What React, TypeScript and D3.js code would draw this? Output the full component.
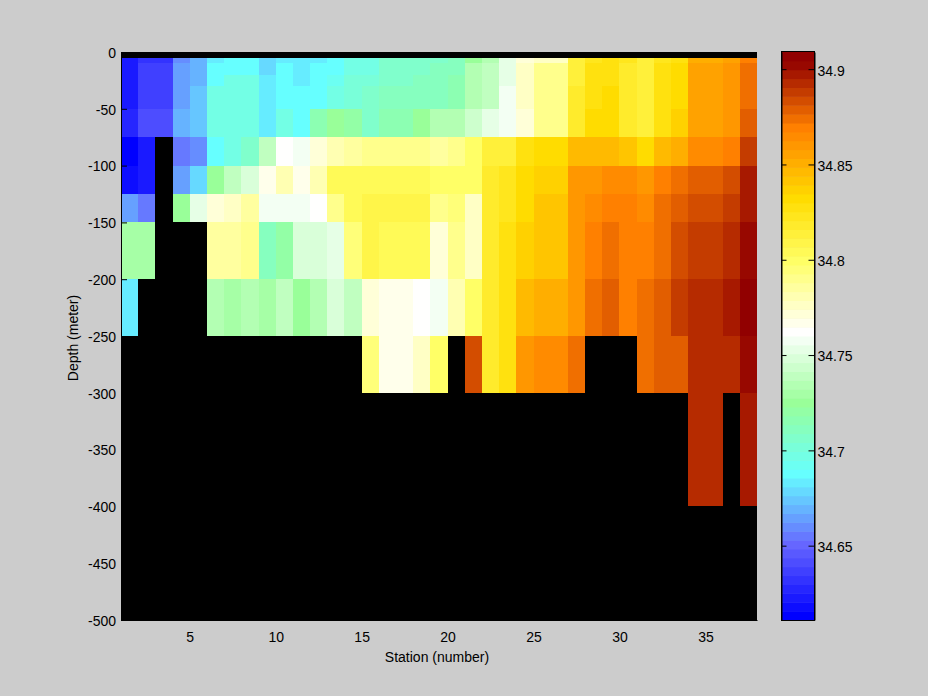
import React, { useEffect, useRef } from 'react';
import * as d3 from 'd3';

const _ = null;

// salinity per station cell, one list per depth layer (null = no data)
const layer5to10 = [34.62, 34.63, 34.63, 34.658, 34.667, 34.681, 34.686, 34.686, 34.677, 34.681, 34.681, 34.681, 34.686, 34.694, 34.695, 34.703, 34.703, 34.703, 34.706, 34.707, 34.725, 34.734, 34.751, 34.769, 34.776, 34.776, 34.811, 34.819, 34.826, 34.819, 34.811, 34.821, 34.827, 34.847, 34.847, 34.855, 34.866];
const layer10to20 = [34.62, 34.634, 34.634, 34.662, 34.667, 34.686, 34.686, 34.686, 34.677, 34.686, 34.681, 34.686, 34.686, 34.695, 34.695, 34.703, 34.703, 34.703, 34.707, 34.711, 34.731, 34.737, 34.751, 34.775, 34.788, 34.788, 34.809, 34.823, 34.826, 34.817, 34.812, 34.826, 34.831, 34.852, 34.852, 34.858, 34.871];
const layer20to30 = [34.62, 34.634, 34.634, 34.662, 34.667, 34.686, 34.693, 34.693, 34.681, 34.686, 34.681, 34.686, 34.69, 34.698, 34.7, 34.704, 34.704, 34.707, 34.709, 34.714, 34.731, 34.737, 34.751, 34.775, 34.788, 34.788, 34.809, 34.823, 34.826, 34.817, 34.812, 34.826, 34.831, 34.852, 34.852, 34.858, 34.871];
const layer30to50 = [34.62, 34.634, 34.634, 34.662, 34.672, 34.693, 34.694, 34.694, 34.681, 34.686, 34.686, 34.686, 34.693, 34.699, 34.703, 34.711, 34.711, 34.709, 34.711, 34.715, 34.731, 34.737, 34.756, 34.775, 34.788, 34.788, 34.815, 34.823, 34.83, 34.817, 34.812, 34.826, 34.831, 34.852, 34.852, 34.858, 34.871];
const layer50to75 = [34.625, 34.639, 34.639, 34.667, 34.672, 34.694, 34.694, 34.694, 34.681, 34.695, 34.686, 34.712, 34.722, 34.718, 34.704, 34.712, 34.712, 34.725, 34.731, 34.733, 34.74, 34.751, 34.756, 34.771, 34.79, 34.79, 34.815, 34.828, 34.83, 34.816, 34.812, 34.827, 34.836, 34.852, 34.852, 34.858, 34.876];
const layer75to100 = [34.613, 34.62, _, 34.653, 34.658, 34.686, 34.694, 34.703, 34.735, 34.758, 34.755, 34.768, 34.778, 34.782, 34.788, 34.788, 34.788, 34.788, 34.785, 34.788, 34.796, 34.809, 34.811, 34.826, 34.83, 34.83, 34.844, 34.844, 34.844, 34.84, 34.83, 34.842, 34.85, 34.862, 34.862, 34.868, 34.886];
const layer100to125 = [34.616, 34.62, _, 34.662, 34.677, 34.724, 34.735, 34.744, 34.764, 34.778, 34.766, 34.78, 34.802, 34.803, 34.803, 34.803, 34.803, 34.803, 34.799, 34.799, 34.799, 34.816, 34.819, 34.831, 34.836, 34.836, 34.856, 34.86, 34.864, 34.864, 34.858, 34.868, 34.871, 34.877, 34.877, 34.882, 34.896];
const layer125to150 = [34.662, 34.653, _, 34.724, 34.751, 34.769, 34.774, 34.782, 34.755, 34.755, 34.755, 34.759, 34.79, 34.802, 34.807, 34.807, 34.807, 34.807, 34.788, 34.792, 34.774, 34.816, 34.822, 34.831, 34.84, 34.84, 34.858, 34.864, 34.868, 34.868, 34.861, 34.872, 34.877, 34.882, 34.882, 34.886, 34.897];
const layer150to200 = [34.726, 34.726, _, _, _, 34.782, 34.785, 34.79, 34.711, 34.718, 34.744, 34.744, 34.749, 34.794, 34.807, 34.802, 34.802, 34.8, 34.77, 34.787, 34.772, 34.817, 34.825, 34.834, 34.838, 34.838, 34.858, 34.866, 34.871, 34.866, 34.866, 34.871, 34.881, 34.885, 34.885, 34.89, 34.9];
const layer200to250 = [34.681, _, _, _, _, 34.731, 34.727, 34.731, 34.727, 34.736, 34.724, 34.733, 34.744, 34.737, 34.77, 34.766, 34.766, 34.759, 34.754, 34.778, 34.798, 34.817, 34.827, 34.844, 34.85, 34.85, 34.86, 34.871, 34.876, 34.866, 34.871, 34.875, 34.885, 34.89, 34.89, 34.897, 34.905];
const layer250to300 = [_, _, _, _, _, _, _, _, _, _, _, _, _, _, 34.792, 34.766, 34.766, 34.773, 34.797, _, 34.881, 34.816, 34.827, 34.858, 34.862, 34.862, 34.871, _, _, _, 34.871, 34.876, 34.876, 34.89, 34.89, 34.89, 34.9];
const layer300to400 = [_, _, _, _, _, _, _, _, _, _, _, _, _, _, _, _, _, _, _, _, _, _, _, _, _, _, _, _, _, _, _, _, _, 34.89, 34.89, _, 34.897];

const layers = [layer5to10, layer10to20, layer20to30, layer30to50, layer50to75, layer75to100, layer100to125, layer125to150, layer150to200, layer200to250, layer250to300, layer300to400];
const depthEdges = [-5, -10, -20, -30, -50, -75, -100, -125, -150, -200, -250, -300, -400];

const stationTicks = [5, 10, 15, 20, 25, 30, 35];
const depthTicks = [0, -50, -100, -150, -200, -250, -300, -350, -400, -450, -500];
const salinityTicks = [34.65, 34.7, 34.75, 34.8, 34.85, 34.9];
const salinityRange = [34.611, 34.909];

// colormap stops
const stopValues = [34.6133, 34.6505, 34.6878, 34.725, 34.762, 34.7996, 34.8322, 34.8694, 34.9043];
const stopColors = ['#0000ff', '#6666ff', '#66ffff', '#99ff99', '#ffffff', '#ffff66', '#ffdc00', '#ff8000', '#910000'];
const nColors = 64;

const App = () => {
  const svgRef = useRef<SVGSVGElement>(null);

  useEffect(() => {
    const svg = d3.select(svgRef.current);
    svg.selectAll('*').remove();
    const font = '"Liberation Sans", Arial, sans-serif';
    const fontSize = 14;

    const x = d3.scaleLinear().domain([1, 38]).range([121, 757]);
    const y = d3.scaleLinear().domain([-500, 0]).range([620, 52]);
    const cbarY = d3.scaleLinear().domain(salinityRange).range([620, 52]);

    const ramp = d3.scaleLinear<string>().domain(stopValues).range(stopColors).interpolate(d3.interpolateRgb).clamp(true);
    const binSize = (salinityRange[1] - salinityRange[0]) / nColors;
    const palette = d3.range(nColors).map(i => ramp(salinityRange[0] + (i + 0.5) * binSize));
    // cell values were read against the bin they fall nearest to
    const color = d3.scaleQuantize<string>()
      .domain([salinityRange[0] - binSize / 2, salinityRange[1] - binSize / 2])
      .range(palette);

    // black axes background shows through the missing cells
    svg.append('rect')
      .attr('x', x(1)).attr('y', y(0))
      .attr('width', x(38) - x(1)).attr('height', y(-500) - y(0))
      .attr('fill', '#000');

    // pcolor cells
    layers.forEach((row, j) => {
      row.forEach((v, i) => {
        if (v === null) return;
        svg.append('rect')
          .attr('x', Math.round(x(i + 1)))
          .attr('y', Math.round(y(depthEdges[j])))
          .attr('width', Math.round(x(i + 2)) - Math.round(x(i + 1)))
          .attr('height', Math.round(y(depthEdges[j + 1])) - Math.round(y(depthEdges[j])))
          .attr('fill', color(v));
      });
    });

    const styleAxis = (g: any) => {
      g.selectAll('path').attr('stroke', '#000');
      g.selectAll('line').attr('stroke', '#000');
      g.selectAll('text').attr('fill', '#000').attr('font-family', font).attr('font-size', fontSize);
    };

    svg.append('g')
      .attr('transform', 'translate(0,620)')
      .call(d3.axisBottom(x).tickValues(stationTicks).tickFormat(d3.format('d')).tickSizeInner(-6).tickSizeOuter(0).tickPadding(12))
      .call(styleAxis);

    svg.append('g')
      .attr('transform', 'translate(121,0)')
      .call(d3.axisLeft(y).tickValues(depthTicks).tickFormat((d: any) => String(d)).tickSizeInner(-6).tickSizeOuter(0).tickPadding(5))
      .call(styleAxis)
      .selectAll('text').attr('dy', '0.38em');

    svg.append('text')
      .attr('x', 437).attr('y', 662)
      .attr('text-anchor', 'middle')
      .attr('font-family', font).attr('font-size', fontSize)
      .text('Station (number)');

    svg.append('text')
      .attr('transform', 'translate(78,338) rotate(-90)')
      .attr('text-anchor', 'middle')
      .attr('font-family', font).attr('font-size', fontSize)
      .text('Depth (meter)');

    // colorbar
    svg.append('g')
      .selectAll('rect')
      .data(palette)
      .enter()
      .append('rect')
      .attr('x', 782)
      .attr('width', 32)
      .attr('y', (_d, i) => cbarY(salinityRange[0] + (i + 1) * binSize))
      .attr('height', cbarY(salinityRange[0]) - cbarY(salinityRange[0] + binSize) + 0.5)
      .attr('fill', d => d);

    svg.append('rect')
      .attr('x', 781.5).attr('y', 51.5)
      .attr('width', 33).attr('height', 569)
      .attr('fill', 'none').attr('stroke', '#000');

    svg.append('g')
      .attr('transform', 'translate(814.5,0)')
      .call(d3.axisRight(cbarY).tickValues(salinityTicks).tickFormat((d: any) => String(d)).tickSizeInner(-6).tickSizeOuter(0).tickPadding(3))
      .call(styleAxis)
      .selectAll('text').attr('dy', '0.42em');

    svg.append('g')
      .attr('transform', 'translate(781.5,0)')
      .call(d3.axisRight(cbarY).tickValues(salinityTicks).tickFormat(() => '').tickSizeInner(5).tickSizeOuter(0))
      .call(styleAxis);
  }, []);

  return (
    <svg
      ref={svgRef}
      width={928}
      height={696}
      style={{ position: 'absolute', left: 0, top: 0, background: '#cccccc' }}
    />
  );
};

export default App;
